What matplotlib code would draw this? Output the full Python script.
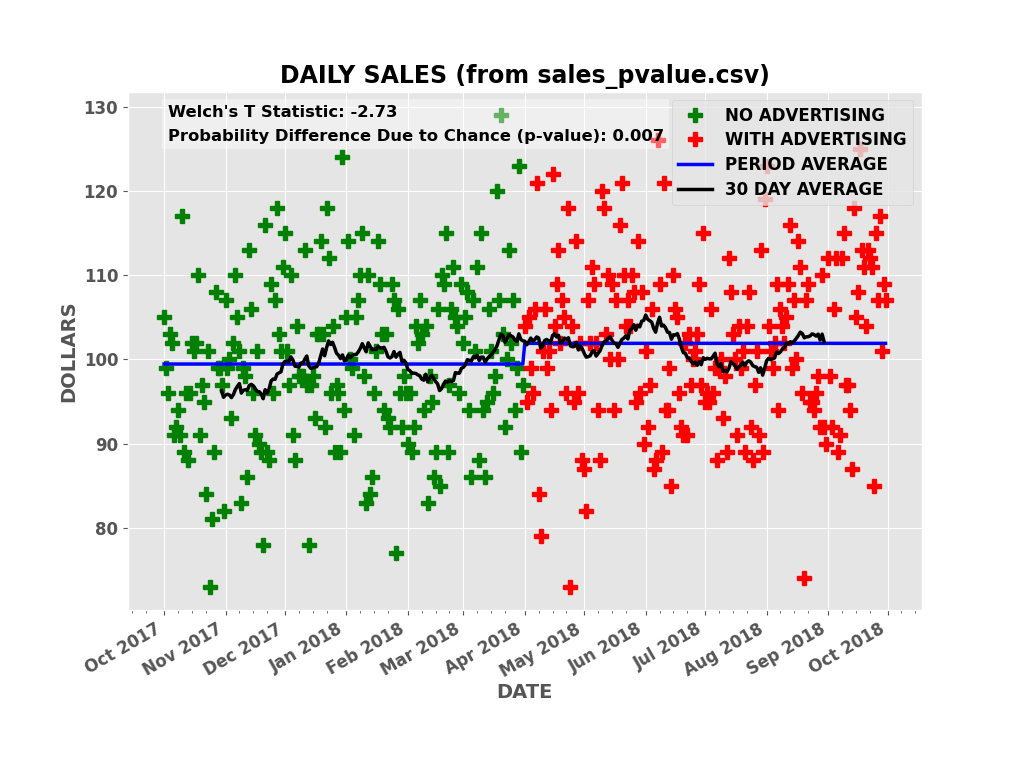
import numpy as np
import pandas as pd
import matplotlib
matplotlib.use('Agg')
import matplotlib.pyplot as plt
import matplotlib.dates as mdates

plt.style.use('ggplot')
plt.rcParams['font.weight'] = 'bold'
plt.rcParams['axes.labelweight'] = 'bold'
plt.rcParams['axes.titleweight'] = 'bold'

# daily sales in dollars
oct_2017 = [105, 99, 96, 103, 102, 91, 92, 94, 91, 117, 89, 96, 88, 96, 102, 101, 102, 110, 91, 97,
            95, 84, 101, 73, 81, 89, 108, 99, 99, 97, 82]
nov_2017 = [107, 99, 100, 93, 102, 110, 105, 101, 83, 99, 98, 86, 113, 106, 96, 91, 101, 90, 89, 78,
            116, 89, 88, 109, 96, 107, 118, 103, 101, 111]
dec_2017 = [115, 101, 97, 110, 91, 88, 104, 98, 98, 98, 113, 97, 78, 97, 98, 93, 103, 103, 114, 103,
            92, 118, 112, 96, 104, 89, 97, 96, 89, 124, 94]
jan_2018 = [105, 114, 100, 99, 91, 105, 107, 110, 115, 98, 83, 110, 84, 86, 96, 101, 114, 109, 103, 94,
            103, 93, 92, 109, 107, 77, 106, 96, 92, 98, 96]
feb_2018 = [90, 96, 89, 92, 104, 102, 107, 103, 94, 104, 83, 98, 95, 86, 89, 106, 85, 110, 109, 115,
            89, 97, 106, 111, 105, 104, 96, 109]
mar_2018 = [102, 105, 108, 94, 86, 107, 101, 111, 88, 115, 94, 86, 95, 106, 101, 96, 98, 120, 107, 129,
            103, 92, 100, 113, 102, 107, 94, 99, 123, 89, 97]
apr_2018 = [104, 95, 105, 99, 96, 106, 121, 84, 79, 101, 106, 99, 101, 94, 122, 104, 109, 113, 102, 107,
            105, 96, 118, 73, 104, 95, 114, 96, 102, 88]
may_2018 = [87, 82, 107, 102, 111, 109, 102, 94, 88, 120, 118, 103, 110, 100, 109, 94, 107, 100, 116, 121,
            110, 104, 107, 104, 110, 108, 95, 114, 96, 108, 90]
jun_2018 = [101, 92, 97, 106, 87, 88, 126, 109, 89, 121, 94, 94, 99, 85, 110, 106, 105, 96, 92, 91,
            102, 91, 103, 97, 100, 101, 103, 109, 97, 115]
jul_2018 = [95, 96, 95, 106, 96, 99, 88, 99, 100, 93, 98, 89, 112, 108, 103, 100, 91, 104, 99, 101,
            89, 104, 108, 92, 88, 97, 101, 91, 113, 89, 119]
aug_2018 = [123, 104, 101, 99, 102, 109, 94, 106, 104, 102, 105, 109, 116, 99, 107, 100, 114, 111, 96, 74,
            107, 109, 95, 95, 94, 96, 98, 92, 110, 92, 90]
sep_2018 = [112, 98, 92, 106, 112, 89, 91, 112, 115, 97, 97, 94, 87, 118, 105, 108, 125, 113, 111, 104,
            113, 112, 111, 85, 115, 107, 117, 101, 109, 107]

no_ad_months = [oct_2017, nov_2017, dec_2017, jan_2018, feb_2018, mar_2018]
ad_months = [apr_2018, may_2018, jun_2018, jul_2018, aug_2018, sep_2018]

start_date = '2017-10-01'
ad_start = '2018-04-01'
avg_end = '2018-08-30'
t_stat = -2.73
p_value = 0.007

no_ad = np.concatenate(no_ad_months)
with_ad = np.concatenate(ad_months)
sales = pd.Series(np.concatenate([no_ad, with_ad]),
                  index=pd.date_range(start_date, periods=len(no_ad) + len(with_ad), freq='D'))

before = sales[sales.index < ad_start]
after = sales[sales.index >= ad_start]

period_avg = pd.Series(np.where(sales.index < ad_start, before.mean(), after.mean()), index=sales.index)
rolling = sales.rolling(30).mean().loc[:avg_end]

fig, ax = plt.subplots(figsize=(10.24, 7.63), dpi=100)

ax.plot(before.index, before.values, 'P', color='g', markersize=9.5, label='NO ADVERTISING')
ax.plot(after.index, after.values, 'P', color='r', markersize=9.5, label='WITH ADVERTISING')
ax.plot(period_avg.index, period_avg.values, color='b', linewidth=2.5, label='PERIOD AVERAGE')
ax.plot(rolling.index, rolling.values, color='k', linewidth=2.5, label='30 DAY AVERAGE')

ax.xaxis.set_major_locator(mdates.MonthLocator())
ax.xaxis.set_major_formatter(mdates.DateFormatter('%b %Y'))
ax.xaxis.set_minor_locator(mdates.DayLocator(bymonthday=[8, 15, 22]))
ax.tick_params(axis='both', which='major', labelsize=12)
ax.tick_params(axis='x', which='minor', length=2)

ax.set_title('DAILY SALES (from sales_pvalue.csv)', fontsize=17)
ax.set_xlabel('DATE', fontsize=14, labelpad=2)
ax.set_ylabel('DOLLARS', fontsize=14)

ax.text(0.05, 0.975,
        "Welch's T Statistic: %.2f\nProbability Difference Due to Chance (p-value): %.3f" % (t_stat, p_value),
        transform=ax.transAxes, va='top', ha='left', fontsize=11.8, linespacing=1.75,
        bbox=dict(facecolor='white', alpha=0.4, edgecolor='none'))

ax.legend(loc='upper right', fontsize=12, numpoints=1, labelspacing=0.4)
fig.autofmt_xdate()

plt.savefig('out.png')
